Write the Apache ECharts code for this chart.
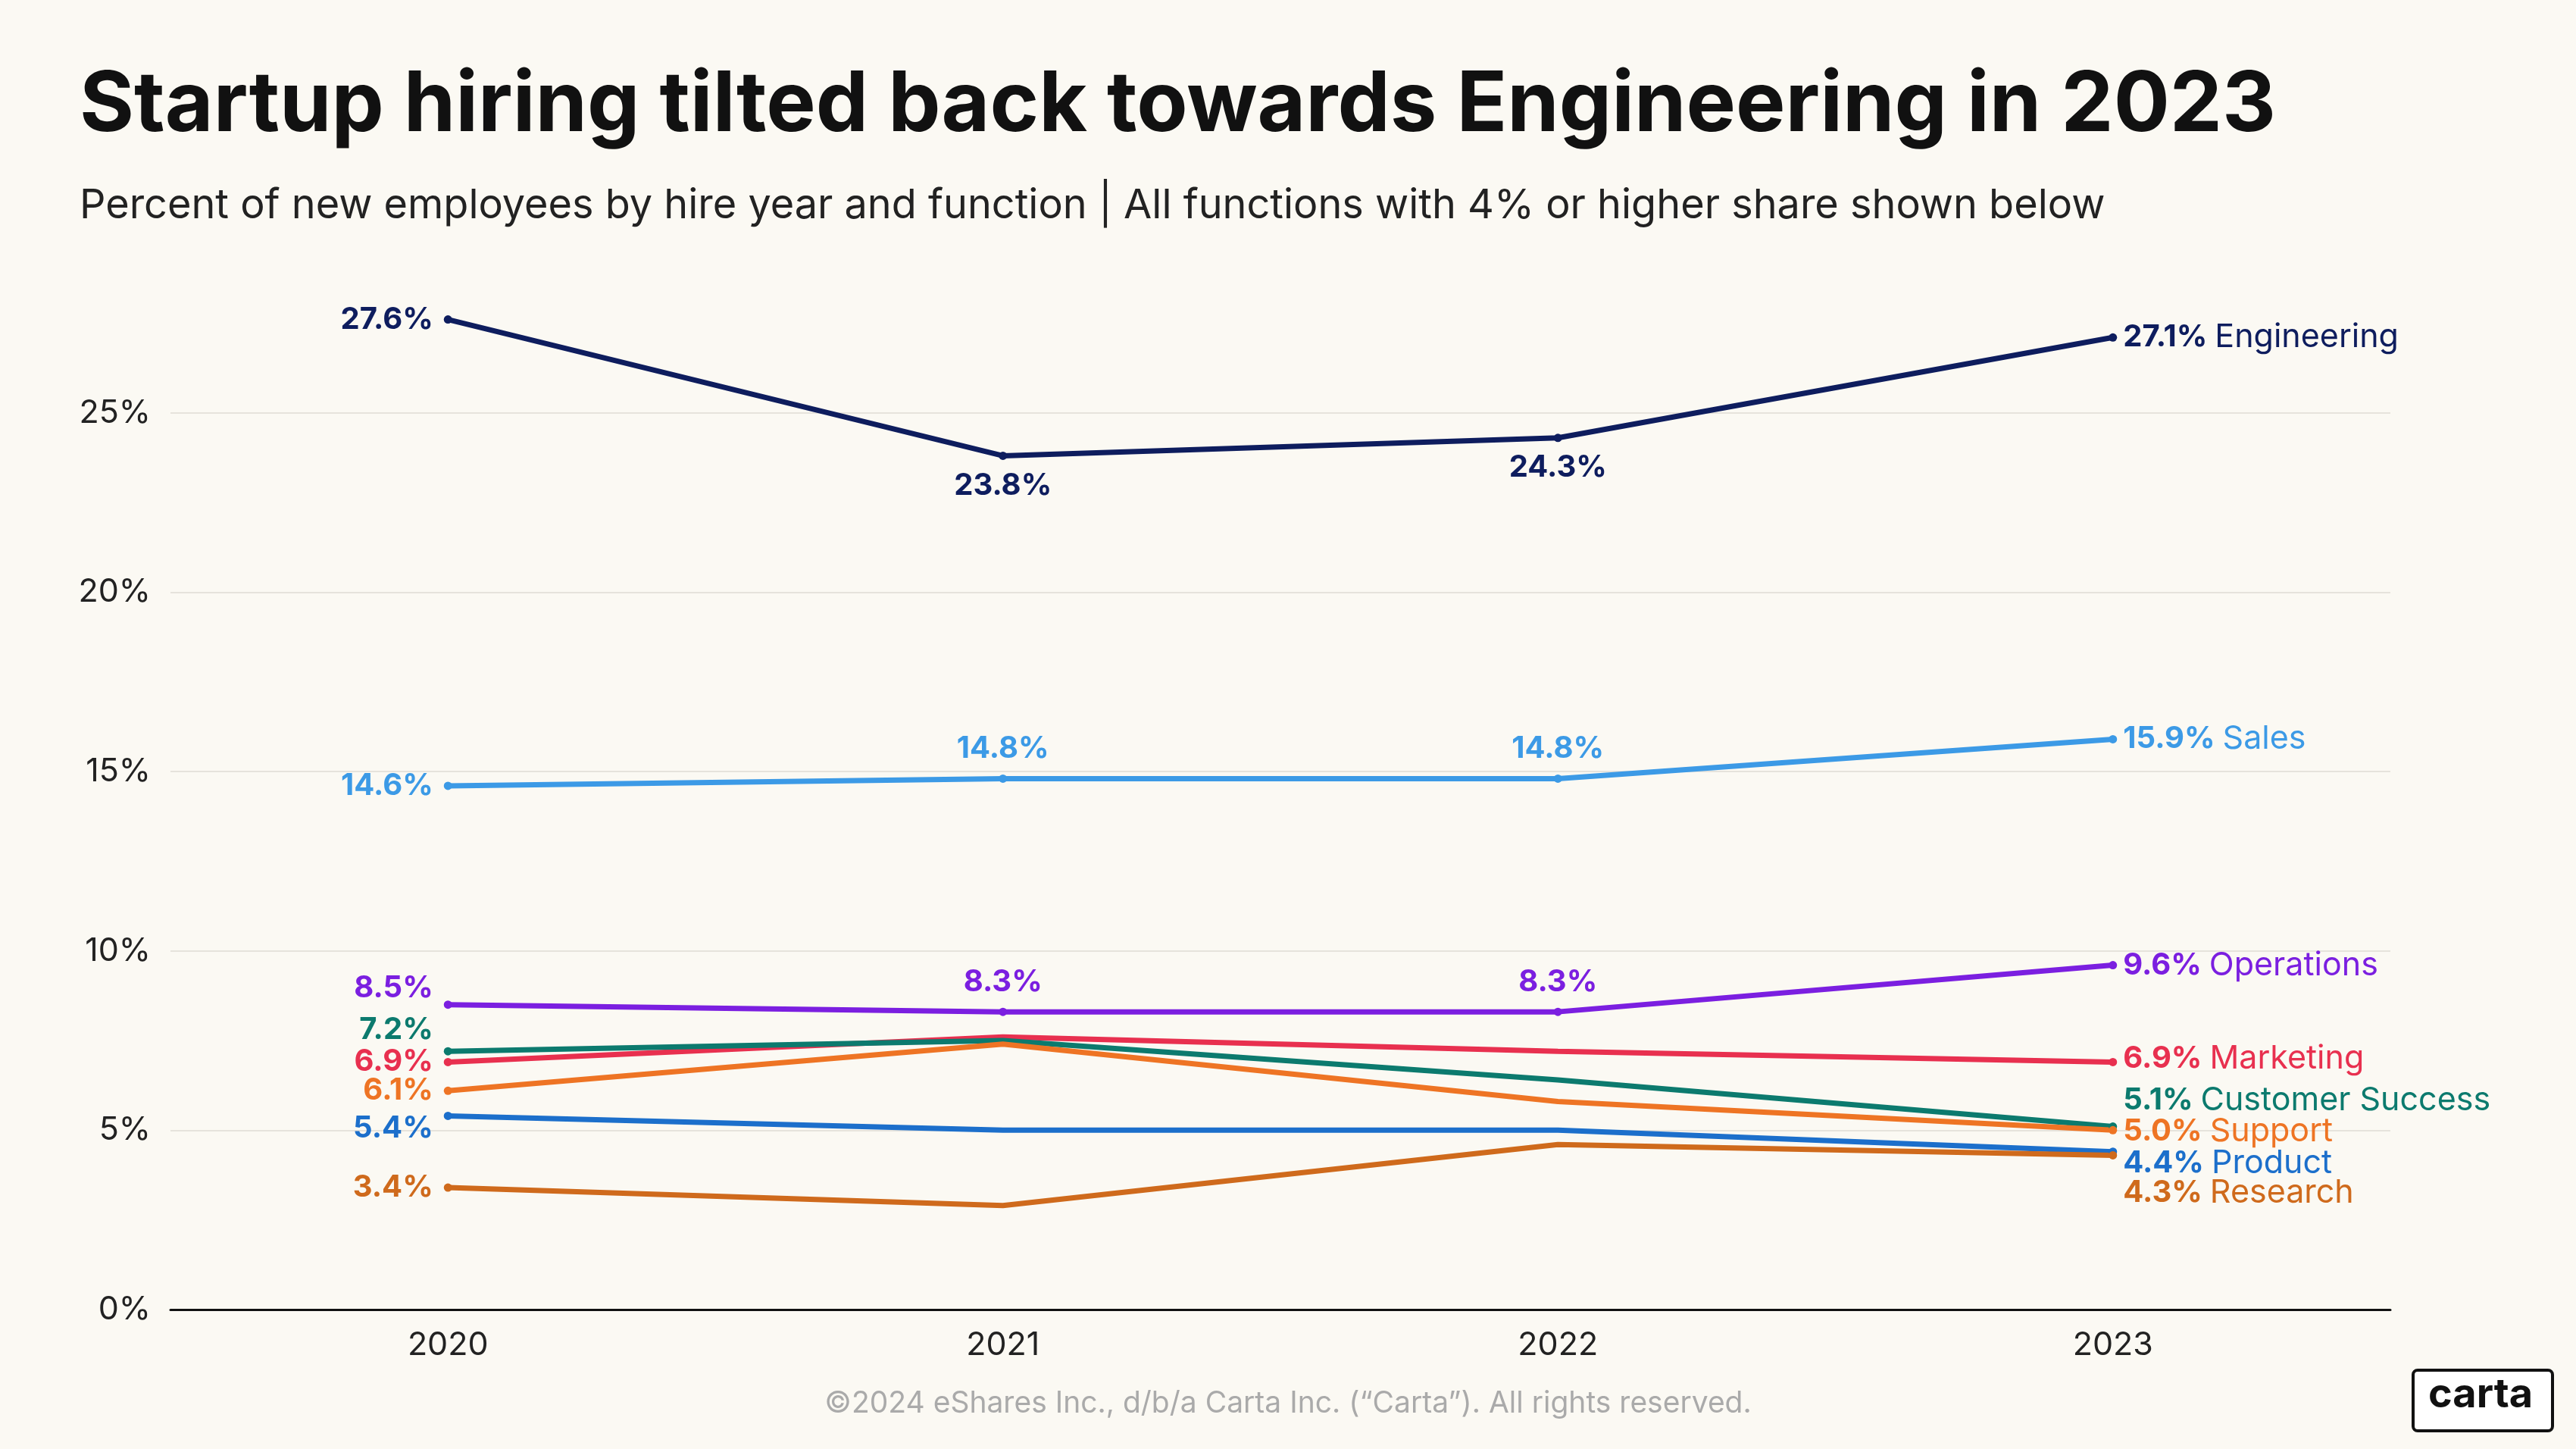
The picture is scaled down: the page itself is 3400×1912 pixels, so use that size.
<!DOCTYPE html>
<html>
<head>
<meta charset="UTF-8">
<title></title>
<script src="https://cdn.jsdelivr.net/npm/echarts@6/dist/echarts.min.js"></script>
<style>
html,body{margin:0;padding:0;background:#fbf9f3;}
#chart{width:3400px;height:1912px;}
</style>
</head>
<body>
<div id="chart"></div>
<script>
var years = ['2020', '2021', '2022', '2023'];
var engineering = [27.6, 23.8, 24.3, 27.1];
var sales = [14.6, 14.8, 14.8, 15.9];
var operations = [8.5, 8.3, 8.3, 9.6];
var marketing = [6.9, 7.6, 7.2, 6.9];
var customerSuccess = [7.2, 7.5, 6.4, 5.1];
var support = [6.1, 7.4, 5.8, 5.0];
var product = [5.4, 5.0, 5.0, 4.4];
var research = [3.4, 2.9, 4.6, 4.3];

var font = 'Inter';
// name, values, colour, label pos for middle points, y offset of 2020 label, y offset of 2023 label
var lines = [
	['Engineering', engineering, '#0e1d5e', 'bottom', 0, 0],
	['Sales', sales, '#3c9ae6', 'top', 0, 0],
	['Operations', operations, '#7b1fe0', 'top', -22, 0],
	['Marketing', marketing, '#e8304f', null, 0, -4],
	['Customer Success', customerSuccess, '#0c7a6e', null, -28, -35],
	['Support', support, '#ee7424', null, 0, 2],
	['Product', product, '#1c6fcb', null, 17, 15],
	['Research', research, '#cf6a1c', null, 0, 50]
];

var series = lines.map(function(l) {
	var data = l[1].map(function(v, i) {
		var txt = v.toFixed(1) + '%';
		var lab;
		if (i == 0) {
			lab = {show: true, position: 'left', distance: 14, offset: [0, l[4]], formatter: '{v|' + txt + '}'};
		} else if (i == 3) {
			lab = {show: true, position: 'right', distance: 8, offset: [0, l[5]],
				formatter: '{v|' + txt + '}   {n|' + l[0] + '}'};
		} else if (l[3]) {
			lab = {show: true, position: l[3], distance: 14, formatter: '{v|' + txt + '}'};
		} else {
			lab = {show: false};
		}
		return {value: v, label: lab, symbolSize: (l[3] || i == 0 || i == 3) ? 11 : 0};
	});
	return {
		name: l[0],
		type: 'line',
		data: data,
		symbol: 'circle',
		color: l[2],
		lineStyle: {width: 7, color: l[2]},
		label: {
			rich: {
				v: {color: l[2], fontFamily: font, fontSize: 40, fontWeight: 'bold'},
				n: {color: l[2], fontFamily: font, fontSize: 43}
			}
		},
		animation: false
	};
});

var chart = echarts.init(document.getElementById('chart'));
chart.setOption({
	backgroundColor: '#fbf9f3',
	title: [{
		text: 'Startup hiring tilted back towards Engineering in 2023',
		left: 100, top: 80,
		textStyle: {fontFamily: font, fontSize: 110, fontWeight: 'bold', color: '#111'}
	}, {
		text: 'Percent of new employees by hire year and function | All functions with 4% or higher share shown below',
		left: 100, top: 240,
		textStyle: {fontFamily: font, fontSize: 54, fontWeight: 'normal', color: '#222'}
	}, {
		text: '©2024 eShares Inc., d/b/a Carta Inc. (“Carta”). All rights reserved.',
		left: 'center', top: 1828,
		textStyle: {fontFamily: font, fontSize: 39, fontWeight: 'normal', color: '#aaa'}
	}],
	graphic: [{
		type: 'rect', left: 3183, top: 1806,
		shape: {width: 184, height: 80, r: 6},
		style: {fill: '#fff', stroke: '#111', lineWidth: 4}
	}, {
		type: 'text', left: 3205, top: 1814,
		style: {text: 'carta', fontFamily: font, fontSize: 54, fontWeight: 'bold', fill: '#111'}
	}],
	grid: {left: 225, right: 245, top: 379, bottom: 184},
	xAxis: {
		type: 'category',
		data: years,
		axisLine: {lineStyle: {color: '#111', width: 3}},
		axisTick: {show: false},
		axisLabel: {fontFamily: font, fontSize: 43, color: '#222', margin: 26}
	},
	yAxis: {
		type: 'value',
		min: 0, max: 28.5, interval: 5,
		axisLine: {show: false},
		axisTick: {show: false},
		axisLabel: {fontFamily: font, fontSize: 43, color: '#222', margin: 26,
			showMaxLabel: false, formatter: '{value}%'},
		splitLine: {lineStyle: {color: ['#e6e3dc', '#e6e3dc', '#e6e3dc', '#e6e3dc', '#e6e3dc', '#e6e3dc', 'rgba(0,0,0,0)'], width: 2}}
	},
	series: series
});
</script>
</body>
</html>
